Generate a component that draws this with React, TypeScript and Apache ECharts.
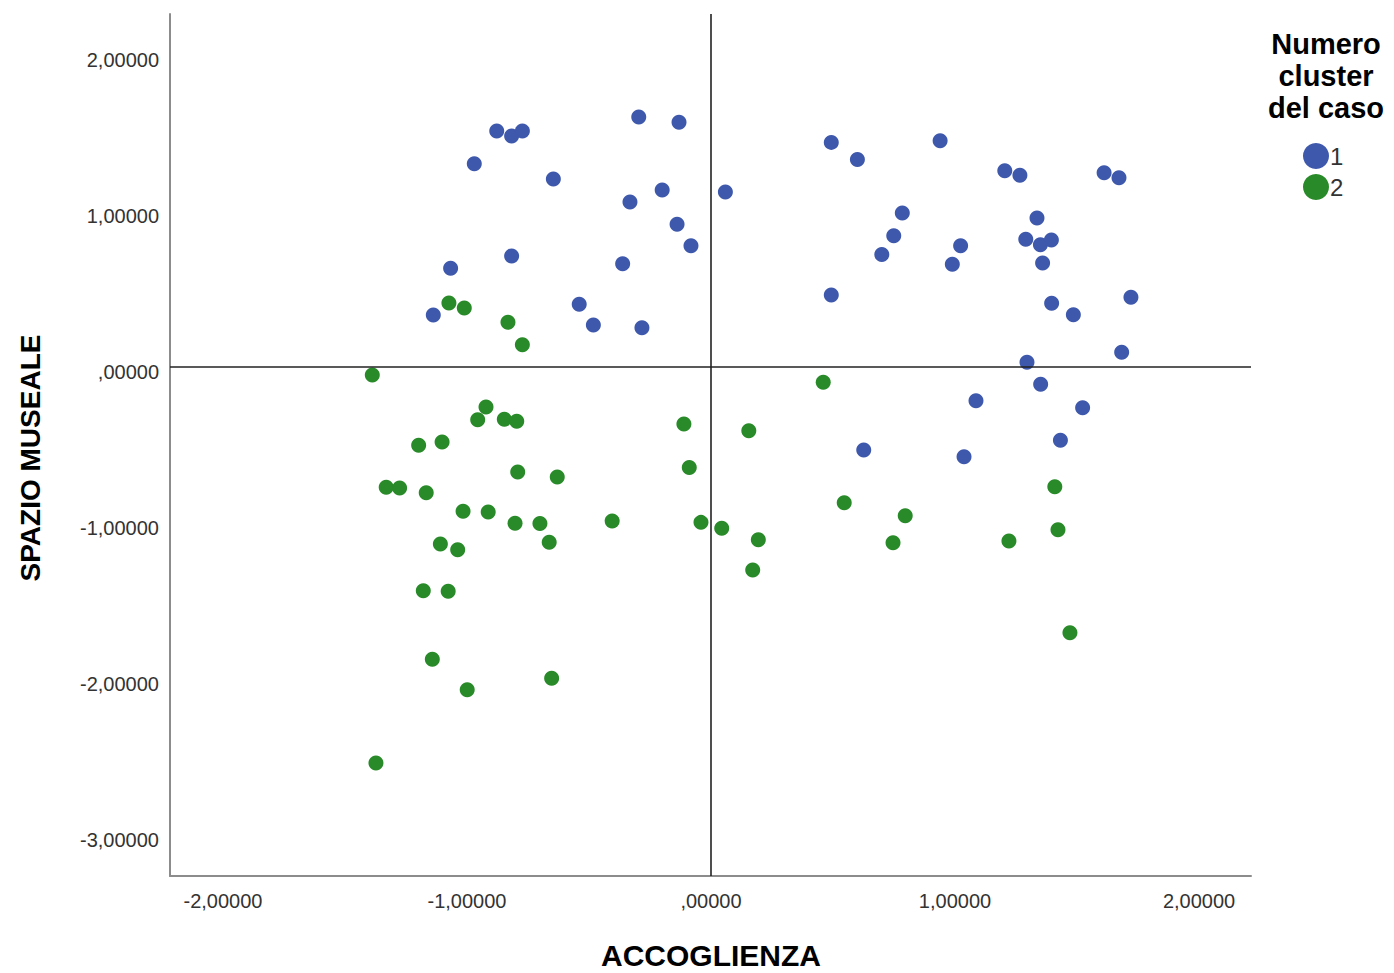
import React, { useEffect, useRef } from "react";
import * as echarts from "echarts";

// Cluster 1 cases (ACCOGLIENZA, SPAZIO MUSEALE)
const cluster1X = [
  -0.878, -0.817, -0.773, -0.97, -0.646, -0.296, -0.131, -0.2, -0.332, 0.059,
  -0.139, -0.082, -0.817, -1.067, -0.362, -1.138, -0.54, -0.482, -0.283, 0.493,
  0.6, 0.939, 1.204, 1.266, 1.611, 1.672, 0.784, 0.749, 0.7, 1.023,
  0.989, 1.336, 1.29, 1.35, 1.395, 1.359, 0.493, 1.396, 1.485, 1.721,
  1.683, 1.295, 1.351, 1.086, 1.523, 1.432, 0.626, 1.037,
];
const cluster1Y = [
  1.513, 1.481, 1.513, 1.303, 1.205, 1.603, 1.569, 1.135, 1.058, 1.122,
  0.915, 0.778, 0.712, 0.633, 0.662, 0.333, 0.402, 0.269, 0.252, 1.44,
  1.331, 1.451, 1.258, 1.229, 1.246, 1.213, 0.987, 0.842, 0.722, 0.778,
  0.658, 0.955, 0.819, 0.784, 0.814, 0.667, 0.462, 0.408, 0.335, 0.447,
  0.094, 0.03, -0.111, -0.216, -0.261, -0.47, -0.532, -0.575,
];

// Cluster 2 cases
const cluster2X = [
  -1.074, -1.011, -0.832, -0.773, -1.388, 0.46, -0.111, 0.155, -0.089, 1.409,
  0.546, 0.796, -0.041, 0.044, 0.194, 0.746, 1.221, 1.422, 0.171, 1.471,
  -0.922, -0.956, -0.847, -0.796, -1.198, -1.102, -0.792, -0.63, -1.331, -1.276,
  -1.167, -1.016, -0.913, -0.803, -0.701, -0.405, -1.109, -1.038, -0.663, -1.179,
  -1.077, -1.142, -0.999, -0.653, -1.373,
];
const cluster2Y = [
  0.41, 0.378, 0.287, 0.143, -0.051, -0.098, -0.365, -0.408, -0.644, -0.767,
  -0.87, -0.953, -0.996, -1.034, -1.107, -1.126, -1.115, -1.043, -1.301, -1.703,
  -0.256, -0.338, -0.335, -0.348, -0.502, -0.481, -0.673, -0.705, -0.771, -0.776,
  -0.806, -0.925, -0.929, -1.002, -1.004, -0.987, -1.135, -1.171, -1.124, -1.434,
  -1.438, -1.874, -2.069, -1.996, -2.538,
];

const xTicks = [-2, -1, 0, 1, 2];
const yTicks = [-3, -2, -1, 0, 1, 2];
const clusterNames = ["1", "2"];
const clusterColors = ["#3E58AC", "#288A28"];

const FONT = "'Liberation Sans', Arial, Helvetica, sans-serif";

const fmt = (v: number) => {
  if (Math.abs(v) < 1e-9) return ",00000";
  return v.toFixed(5).replace(".", ",");
};

const pairs = (xs: number[], ys: number[]) => xs.map((x, i) => [x, ys[i]]);

export default function App() {
  const ref = useRef<HTMLDivElement>(null);

  useEffect(() => {
    if (!ref.current) return;
    const chart = echarts.init(ref.current, undefined, { renderer: "svg" });
    chart.setOption({
      animation: false,
      backgroundColor: "#ffffff",
      grid: { left: 170, top: 14, right: 143, bottom: 97, containLabel: false },
      xAxis: {
        type: "value",
        min: -2.217,
        max: 2.213,
        splitLine: { show: false },
        axisTick: { show: false },
        axisLine: { show: true, onZero: false, lineStyle: { color: "#8c8c8c", width: 2 } },
        axisLabel: {
          customValues: xTicks,
          formatter: (v: number) => fmt(v),
          color: "#333333",
          fontSize: 20,
          fontFamily: FONT,
          margin: 15,
        },
      },
      yAxis: {
        type: "value",
        min: -3.263,
        max: 2.263,
        splitLine: { show: false },
        axisTick: { show: false },
        axisLine: { show: true, onZero: false, lineStyle: { color: "#8c8c8c", width: 2 } },
        axisLabel: {
          customValues: yTicks,
          formatter: (v: number) => fmt(v),
          color: "#333333",
          fontSize: 20,
          fontFamily: FONT,
          margin: 11,
          verticalAlign: "top",
          lineHeight: 10,
        },
      },
      legend: {
        orient: "vertical",
        left: 1303,
        top: 143,
        padding: 0,
        itemGap: 5,
        itemWidth: 26,
        itemHeight: 26,
        icon: "circle",
        itemStyle: { borderWidth: 0 },
        textStyle: { fontSize: 24, color: "#333333", fontFamily: FONT, padding: [0, 0, 0, -4] },
        data: clusterNames,
      },
      graphic: [
        {
          type: "text",
          x: 1326,
          y: 28,
          style: {
            text: "Numero\ncluster\ndel caso",
            fontSize: 29,
            fontWeight: "bold",
            fontFamily: FONT,
            fill: "#000000",
            align: "center",
            verticalAlign: "top",
            lineHeight: 32,
          },
        },
        {
          type: "text",
          x: 711,
          y: 955,
          style: {
            text: "ACCOGLIENZA",
            fontSize: 30,
            fontWeight: "bold",
            fontFamily: FONT,
            fill: "#000000",
            align: "center",
            verticalAlign: "middle",
          },
        },
        {
          type: "text",
          x: 30,
          y: 458,
          rotation: Math.PI / 2,
          style: {
            text: "SPAZIO MUSEALE",
            fontSize: 28,
            fontWeight: "bold",
            fontFamily: FONT,
            fill: "#000000",
            align: "center",
            verticalAlign: "middle",
          },
        },
      ],
      series: [
        {
          name: clusterNames[0],
          type: "scatter",
          symbolSize: 15,
          itemStyle: { color: clusterColors[0], opacity: 1 },
          data: pairs(cluster1X, cluster1Y),
          z: 3,
          markLine: {
            silent: true,
            symbol: "none",
            label: { show: false },
            lineStyle: { color: "#222222", width: 1.6, type: "solid" },
            data: [{ xAxis: 0 }, { yAxis: 0 }],
          },
        },
        {
          name: clusterNames[1],
          type: "scatter",
          symbolSize: 15,
          itemStyle: { color: clusterColors[1], opacity: 1 },
          data: pairs(cluster2X, cluster2Y),
          z: 3,
        },
      ],
    });
    return () => chart.dispose();
  }, []);

  return (
    <div
      ref={ref}
      style={{ position: "fixed", left: 0, top: 0, width: 1394, height: 973, background: "#fff" }}
    />
  );
}
